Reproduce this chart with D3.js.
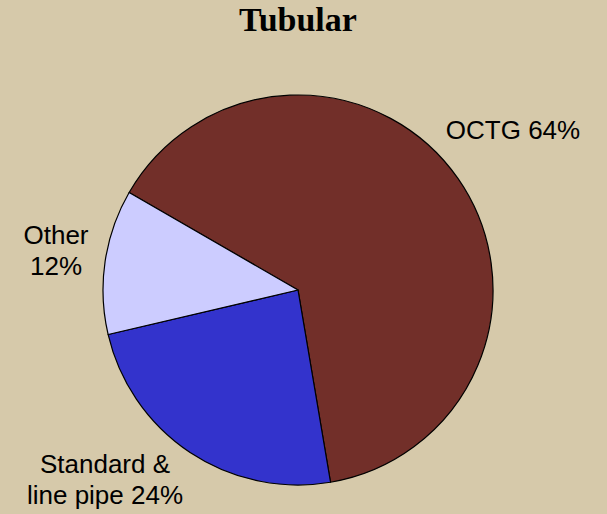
<!doctype html>
<html lang="en">
<head>
<meta charset="utf-8">
<script src="https://cdn.jsdelivr.net/npm/d3@7"></script>
<style>
  body { margin: 0; background: #D6C9AA; }
  svg { display: block; }
</style>
</head>
<body>
<div id="chart"></div>
<script>
  var categories = ["OCTG", "Standard & line pipe", "Other"];
  var values = [64, 24, 12];
  var colors = ["#722F29", "#3333CC", "#CCCCFF"];
  // label lines as drawn in the chart
  var labelLines = [["OCTG 64%"], ["Standard &", "line pipe 24%"], ["Other", "12%"]];

  var width = 607, height = 514;
  var cx = 298, cy = 290, radius = 195;

  var svg = d3.select("#chart").append("svg")
      .attr("width", width)
      .attr("height", height);

  svg.append("rect")
      .attr("width", width).attr("height", height)
      .attr("fill", "#D6C9AA");

  svg.append("text")
      .attr("x", 298).attr("y", 31)
      .attr("text-anchor", "middle")
      .attr("font-family", "Liberation Serif, Times New Roman, serif")
      .attr("font-weight", "bold")
      .attr("font-size", "34px")
      .text("Tubular");

  var start = -60 * Math.PI / 180;
  var pie = d3.pie().sort(null)
      .startAngle(start).endAngle(start + 2 * Math.PI);
  var arc = d3.arc().innerRadius(0).outerRadius(radius);

  var data = categories.map(function(c, i) { return {name: c, value: values[i], i: i}; });

  var g = svg.append("g").attr("transform", "translate(" + cx + "," + cy + ")");
  g.selectAll("path")
      .data(pie.value(function(d) { return d.value; })(data))
      .join("path")
      .attr("d", arc)
      .attr("fill", function(d) { return colors[d.data.i]; })
      .attr("stroke", "#000")
      .attr("stroke-width", 1.2)
      .attr("stroke-linejoin", "round");

  // label anchor centers (first line baseline)
  var labelPos = [[513, 139], [105, 473], [56, 244]];
  var lineH = 30.5;
  labelLines.forEach(function(lines, i) {
    var t = svg.append("text")
        .attr("text-anchor", "middle")
        .attr("font-family", "Liberation Sans, Arial, sans-serif")
        .attr("font-size", "26px")
        .attr("fill", "#000");
    lines.forEach(function(l, j) {
      t.append("tspan")
          .attr("x", labelPos[i][0])
          .attr("y", labelPos[i][1] + j * lineH)
          .text(l);
    });
  });
</script>
</body>
</html>
